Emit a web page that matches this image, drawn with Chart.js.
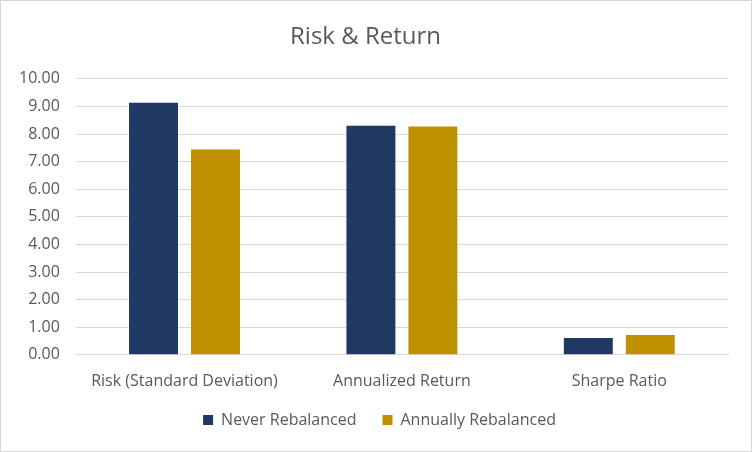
<!DOCTYPE html>
<html>
<head>
<meta charset="utf-8">
<script src="https://cdn.jsdelivr.net/npm/chart.js@4/dist/chart.umd.min.js"></script>
<style>
  html, body { margin: 0; padding: 0; background: #fff; }
  #wrap { width: 752px; height: 452px; box-sizing: border-box; border: 1px solid #d9d9d9; }
</style>
</head>
<body>
<div id="wrap"><canvas id="riskChart" width="750" height="450"></canvas></div>
<script>
const categories = ['Risk (Standard Deviation)', 'Annualized Return', 'Sharpe Ratio'];
const neverRebalanced = [9.13, 8.30, 0.61];
const annuallyRebalanced = [7.44, 8.27, 0.72];

// keep the wide gap between legend items but take less height for the legend
const tightLegend = {
    id: 'tightLegend',
    beforeInit(chart) {
        const legend = chart.legend;
        const fit = legend.fit;
        legend.fit = function () {
            fit.call(this);
            this.height -= 20;
        };
    },
    afterLayout(chart) {
        const legend = chart.legend;
        legend.top -= 14;
        legend.bottom += 6;
        legend.left += 14;
        legend.right += 14;
    }
};

const ctx = document.getElementById('riskChart').getContext('2d');
const riskChart = new Chart(ctx, {
    type: 'bar',
    data: {
        labels: categories,
        datasets: [{
            label: 'Never Rebalanced',
            data: neverRebalanced,
            backgroundColor: '#203864'
        }, {
            label: 'Annually Rebalanced',
            data: annuallyRebalanced,
            backgroundColor: '#bf9000'
        }]
    },
    plugins: [tightLegend],
    options: {
        responsive: false,
        animation: false,
        categoryPercentage: 0.57,
        barPercentage: 0.79,
        layout: { padding: { left: 2, right: 23, top: 0, bottom: 19 } },
        plugins: {
            title: {
                display: true,
                text: 'Risk & Return',
                color: '#595959',
                font: { family: 'Open Sans', size: 24, weight: 'normal' },
                padding: { top: 22, bottom: 27 }
            },
            legend: {
                position: 'bottom',
                labels: {
                    color: '#595959',
                    font: { family: 'Open Sans', size: 16 },
                    boxWidth: 10,
                    boxHeight: 10,
                    padding: 26
                }
            },
            tooltip: { enabled: false }
        },
        scales: {
            x: {
                grid: { display: false },
                border: { color: '#d9d9d9' },
                ticks: { color: '#595959', font: { family: 'Open Sans', size: 16 }, padding: 9 }
            },
            y: {
                min: 0,
                max: 10,
                border: { display: false },
                grid: { color: '#d9d9d9', drawTicks: false },
                ticks: {
                    stepSize: 1,
                    color: '#595959',
                    font: { family: 'Open Sans', size: 16 },
                    padding: 16,
                    callback: v => v.toFixed(2)
                }
            }
        }
    }
});
</script>
</body>
</html>
